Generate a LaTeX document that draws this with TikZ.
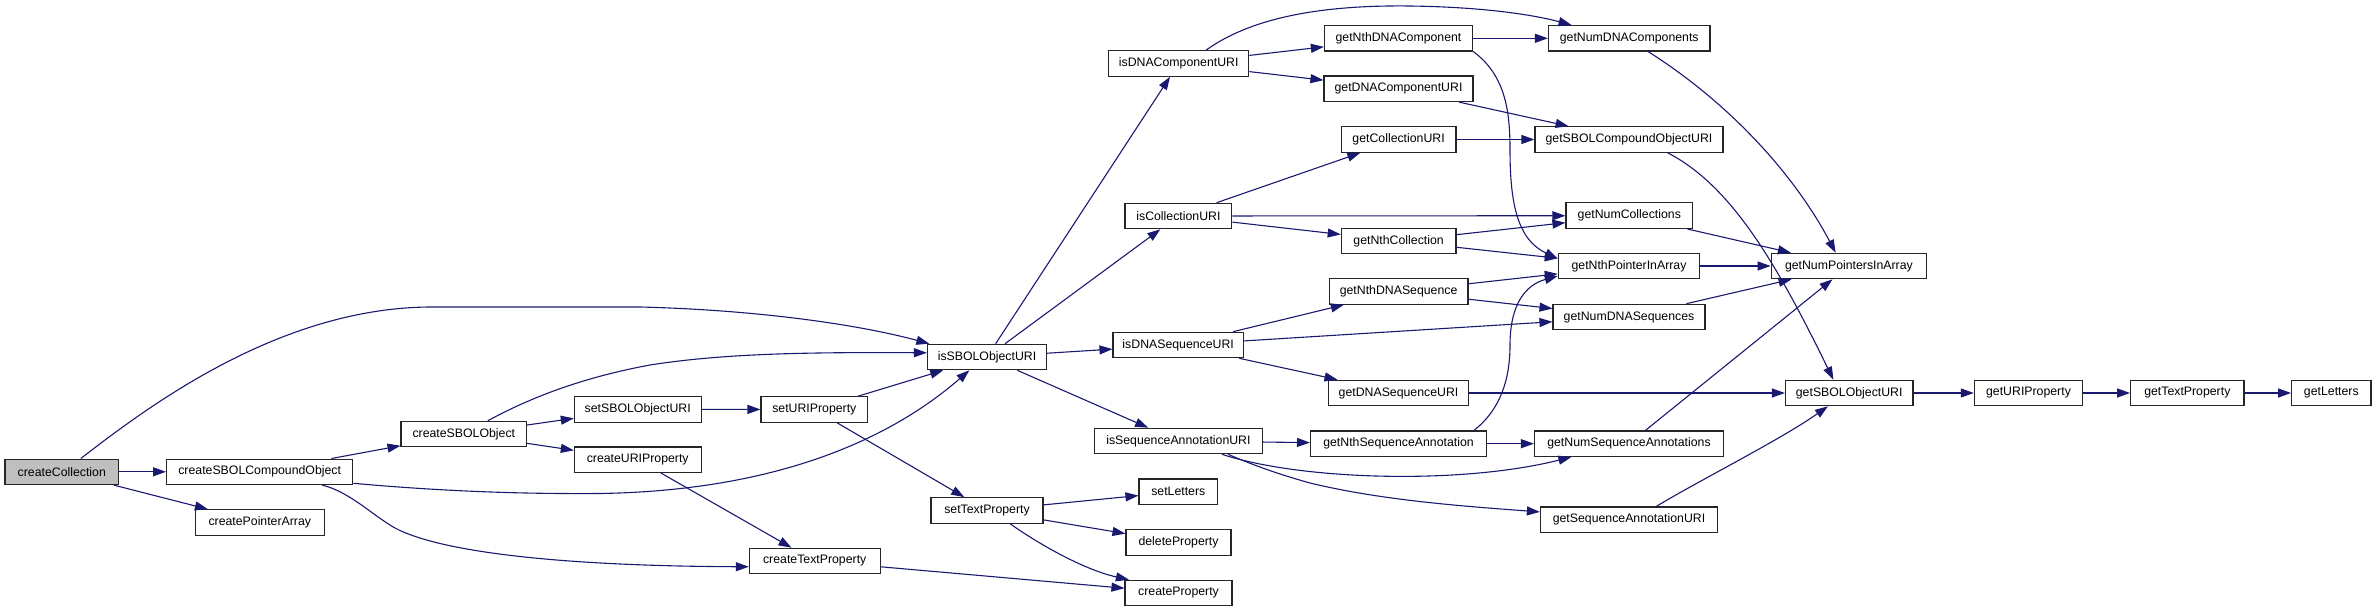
\documentclass[tikz,border=0pt]{standalone}
\usepackage{fontspec}
\setmainfont{Liberation Sans}
\usetikzlibrary{arrows.meta}
\definecolor{edgeblue}{HTML}{191970}
\definecolor{rootgray}{HTML}{BFBFBF}
\begin{document}
\begin{tikzpicture}[x=1pt,y=-1pt,
  fn/.style={draw=black!85, line width=1.1pt, fill=white, minimum height=25.5pt,
    inner sep=0pt, font=\fontsize{12.3}{14}\selectfont},
  call/.style={draw=edgeblue, line width=1.1pt, -{Triangle[length=13pt,width=9pt]}},
]
\useasboundingbox (0,0) rectangle (2376,612);
% nodes
\node[fn, fill=rootgray, minimum width=113.6pt] (createCollection) at (61.8,471.8) {createCollection};
\node[fn, minimum width=186.3pt] (createSBOLCompoundObject) at (259.7,471.8) {createSBOLCompoundObject};
\node[fn, minimum width=129.5pt] (createPointerArray) at (259.8,522.5) {createPointerArray};
\node[fn, minimum width=125.6pt] (createSBOLObject) at (463.8,434) {createSBOLObject};
\node[fn, minimum width=126.7pt] (setSBOLObjectURI) at (637.7,409.3) {setSBOLObjectURI};
\node[fn, minimum width=126.7pt] (createURIProperty) at (637.7,459.7) {createURIProperty};
\node[fn, minimum width=106.6pt] (setURIProperty) at (814.3,409.5) {setURIProperty};
\node[fn, minimum width=130.7pt] (createTextProperty) at (814.7,561) {createTextProperty};
\node[fn, minimum width=119.2pt] (isSBOLObjectURI) at (987,357) {isSBOLObjectURI};
\node[fn, minimum width=112pt] (setTextProperty) at (987,510.4) {setTextProperty};
\node[fn, minimum width=140.2pt] (isDNAComponentURI) at (1178.7,63.5) {isDNAComponentURI};
\node[fn, minimum width=106.8pt] (isCollectionURI) at (1178.4,216) {isCollectionURI};
\node[fn, minimum width=130.4pt] (isDNASequenceURI) at (1178.2,345) {isDNASequenceURI};
\node[fn, minimum width=168pt] (isSequenceAnnotationURI) at (1178.4,441) {isSequenceAnnotationURI};
\node[fn, minimum width=78.6pt] (setLetters) at (1178.3,491.7) {setLetters};
\node[fn, minimum width=105pt] (deleteProperty) at (1178.5,542.5) {deleteProperty};
\node[fn, minimum width=107pt] (createProperty) at (1178.5,593) {createProperty};
\node[fn, minimum width=148.2pt] (getNthDNAComponent) at (1398.5,38.3) {getNthDNAComponent};
\node[fn, minimum width=149pt] (getDNAComponentURI) at (1398.5,88.8) {getDNAComponentURI};
\node[fn, minimum width=114.7pt] (getCollectionURI) at (1398.6,139.5) {getCollectionURI};
\node[fn, minimum width=114.7pt] (getNthCollection) at (1398.6,241) {getNthCollection};
\node[fn, minimum width=138.7pt] (getNthDNASequence) at (1398.6,291.5) {getNthDNASequence};
\node[fn, minimum width=140.2pt] (getDNASequenceURI) at (1398.5,393) {getDNASequenceURI};
\node[fn, minimum width=175.9pt] (getNthSequenceAnnotation) at (1398.5,443.7) {getNthSequenceAnnotation};
\node[fn, minimum width=161.5pt] (getNumDNAComponents) at (1629.2,38.3) {getNumDNAComponents};
\node[fn, minimum width=188pt] (getSBOLCompoundObjectURI) at (1629,139.5) {getSBOLCompoundObjectURI};
\node[fn, minimum width=126.7pt] (getNumCollections) at (1629.3,215.7) {getNumCollections};
\node[fn, minimum width=141.5pt] (getNthPointerInArray) at (1629,266) {getNthPointerInArray};
\node[fn, minimum width=152pt] (getNumDNASequences) at (1629,317) {getNumDNASequences};
\node[fn, minimum width=189pt] (getNumSequenceAnnotations) at (1629,443.7) {getNumSequenceAnnotations};
\node[fn, minimum width=177.2pt] (getSequenceAnnotationURI) at (1629,519.7) {getSequenceAnnotationURI};
\node[fn, minimum width=155.4pt] (getNumPointersInArray) at (1848.9,266) {getNumPointersInArray};
\node[fn, minimum width=127.5pt] (getSBOLObjectURI) at (1849.2,393) {getSBOLObjectURI};
\node[fn, minimum width=108.4pt] (getURIProperty) at (2028.5,393) {getURIProperty};
\node[fn, minimum width=113.3pt] (getTextProperty) at (2187.3,393) {getTextProperty};
\node[fn, minimum width=79.3pt] (getLetters) at (2331.3,393) {getLetters};
% straight calls
\draw[call] (createCollection) -- (createSBOLCompoundObject);
\draw[call] (createCollection) -- (createPointerArray);
\draw[call] (createSBOLCompoundObject) -- (createSBOLObject);
\draw[call] (createSBOLObject) -- (setSBOLObjectURI);
\draw[call] (createSBOLObject) -- (createURIProperty);
\draw[call] (setSBOLObjectURI) -- (setURIProperty);
\draw[call] (setURIProperty) -- (isSBOLObjectURI);
\draw[call] (setURIProperty) -- (setTextProperty);
\draw[call] (createURIProperty) -- (createTextProperty);
\draw[call] (createTextProperty) -- (createProperty);
\draw[call] (setTextProperty) -- (setLetters);
\draw[call] (setTextProperty) -- (deleteProperty);
\draw[call] (isSBOLObjectURI) -- (isDNAComponentURI);
\draw[call] (isSBOLObjectURI) -- (isCollectionURI);
\draw[call] (isSBOLObjectURI) -- (isDNASequenceURI);
\draw[call] (isSBOLObjectURI) -- (isSequenceAnnotationURI);
\draw[call] (isDNAComponentURI) -- (getNthDNAComponent);
\draw[call] (isDNAComponentURI) -- (getDNAComponentURI);
\draw[call] (getNthDNAComponent) -- (getNumDNAComponents);
\draw[call] (getDNAComponentURI) -- (getSBOLCompoundObjectURI);
\draw[call] (isCollectionURI) -- (getCollectionURI);
\draw[call] (isCollectionURI) -- (getNumCollections);
\draw[call] (isCollectionURI) -- (getNthCollection);
\draw[call] (getCollectionURI) -- (getSBOLCompoundObjectURI);
\draw[call] (getNthCollection) -- (getNumCollections);
\draw[call] (getNthCollection) -- (getNthPointerInArray);
\draw[call] (getNumCollections) -- (getNumPointersInArray);
\draw[call] (getNthPointerInArray) -- (getNumPointersInArray);
\draw[call] (isDNASequenceURI) -- (getNthDNASequence);
\draw[call] (isDNASequenceURI) -- (getNumDNASequences);
\draw[call] (isDNASequenceURI) -- (getDNASequenceURI);
\draw[call] (getNthDNASequence) -- (getNthPointerInArray);
\draw[call] (getNthDNASequence) -- (getNumDNASequences);
\draw[call] (getNumDNASequences) -- (getNumPointersInArray);
\draw[call] (getDNASequenceURI) -- (getSBOLObjectURI);
\draw[call] (isSequenceAnnotationURI) -- (getNthSequenceAnnotation);
\draw[call] (getNthSequenceAnnotation) -- (getNumSequenceAnnotations);
\draw[call] (getNumSequenceAnnotations) -- (getNumPointersInArray);
\draw[call] (getSBOLObjectURI) -- (getURIProperty);
\draw[call] (getURIProperty) -- (getTextProperty);
\draw[call] (getTextProperty) -- (getLetters);
% curved calls
\draw[call] (createCollection.35) .. controls (150,405) and (280,308) .. (430,307)
  -- (640,307) .. controls (760,310) and (860,325) .. (isSBOLObjectURI.167);
\draw[call] (createSBOLCompoundObject.-7) .. controls (450,492) and (530,494) .. (600,493.5)
  .. controls (760,491) and (880,448) .. (isSBOLObjectURI.-143);
\draw[call] (createSBOLCompoundObject.-12.5) .. controls (350,492) and (372,515) .. (395,528)
  .. controls (440,552) and (560,566) .. (createTextProperty.185);
\draw[call] (createSBOLObject.29) .. controls (530,398) and (580,378) .. (650,365)
  .. controls (720,354) and (800,352) .. (isSBOLObjectURI.176.5);
\draw[call] (setTextProperty.-30) .. controls (1040,545) and (1085,570) .. (createProperty.165);
\draw[call] (isDNAComponentURI.26) .. controls (1255,15) and (1330,5) .. (1410,6)
  .. controls (1480,7) and (1530,14) .. (getNumDNAComponents.167);
\draw[call] (getNthDNAComponent.-10) .. controls (1505,75) and (1510,110) .. (1510,150)
  .. controls (1510,205) and (1518,240) .. (getNthPointerInArray.174);
\draw[call] (getNumDNAComponents.-35) .. controls (1740,110) and (1800,185) .. (getNumPointersInArray.135);
\draw[call] (getSBOLCompoundObjectURI.-19.5) .. controls (1730,185) and (1775,260) .. (getSBOLObjectURI.140);
\draw[call] (getSequenceAnnotationURI.26) .. controls (1700,480) and (1780,440) .. (getSBOLObjectURI.-148);
\draw[call] (isSequenceAnnotationURI.-17) .. controls (1300,480) and (1460,485) .. (getNumSequenceAnnotations.-167.5);
\draw[call] (isSequenceAnnotationURI.-15.5) .. controls (1260,468) and (1285,476) .. (1310,483)
  .. controls (1380,500) and (1460,506) .. (getSequenceAnnotationURI.175);
\draw[call] (getNthSequenceAnnotation.10.4) .. controls (1500,410) and (1510,380) .. (1510,345)
  .. controls (1510,305) and (1525,285) .. (getNthPointerInArray.-172);
\end{tikzpicture}
\end{document}
